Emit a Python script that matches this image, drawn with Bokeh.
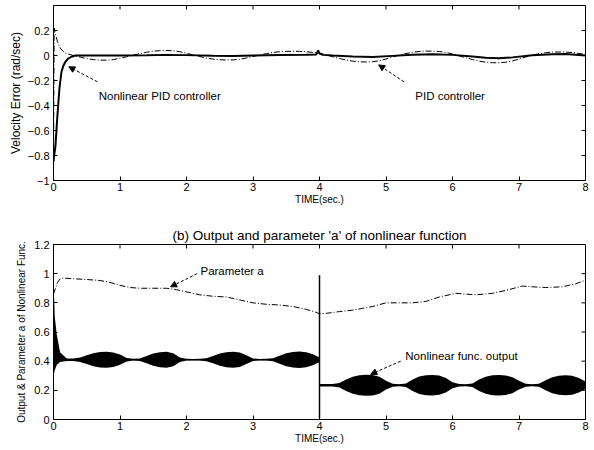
from bokeh.plotting import figure
from bokeh.models import Range1d, FixedTicker, Arrow, NormalHead, Label
from bokeh.layouts import column
from bokeh.embed import file_html
from bokeh.resources import INLINE
import math

FONT = "Liberation Sans"

# ---------------- data: (a) velocity error ----------------
x_ticks = [0, 1, 2, 3, 4, 5, 6, 7, 8]
err_ticks = [-1, -0.8, -0.6, -0.4, -0.2, 0, 0.2]
out_ticks = [0, 0.2, 0.4, 0.6, 0.8, 1.0, 1.2]

pid_t = [0.0, 0.01, 0.03, 0.06, 0.1, 0.15] + [round(0.2 + 0.1 * i, 1) for i in range(79)]
pid_v = [-0.85, 0.22, 0.17, 0.11, 0.06, 0.03,
         0.015, 0.0, -0.012, -0.025, -0.033, -0.037, -0.037, -0.033, -0.022, -0.01,
         0.003, 0.015, 0.026, 0.034, 0.039, 0.04, 0.038, 0.03, 0.018, 0.005,
         -0.008, -0.02, -0.029, -0.034, -0.036, -0.035, -0.03, -0.02, -0.008, 0.004,
         0.015, 0.024, 0.03, 0.033, 0.034, 0.033, 0.03, 0.025, 0.02, 0.005,
         -0.01, -0.024, -0.036, -0.045, -0.05, -0.052, -0.05, -0.042, -0.028, -0.012,
         0.003, 0.016, 0.026, 0.032, 0.035, 0.035, 0.032, 0.025, 0.012, -0.003,
         -0.018, -0.032, -0.045, -0.054, -0.058, -0.058, -0.054, -0.044, -0.028, -0.012,
         0.003, 0.014, 0.022, 0.027, 0.028, 0.027, 0.024, 0.017, 0.008]

nl_t = [0.0, 0.01, 0.03, 0.05, 0.07, 0.09, 0.12, 0.15, 0.18, 0.22, 0.27, 0.33,
        0.6, 1.0, 1.4, 1.7, 2.0, 2.4, 2.7, 3.0, 3.4, 3.8,
        3.95, 3.98, 4.0, 4.05,
        4.2, 4.5, 4.8, 5.1, 5.4, 5.7, 6.0, 6.3, 6.5, 6.7, 6.9, 7.2, 7.5, 7.7, 8.0]
nl_v = [-0.85, -0.8, -0.72, -0.55, -0.4, -0.26, -0.13, -0.08, -0.05, -0.025, -0.01, 0.0,
        0.0, 0.0, 0.002, 0.005, 0.003, -0.002, -0.004, 0.0, 0.004, 0.006,
        0.008, 0.04, 0.015, 0.005,
        0.0, -0.008, -0.012, -0.003, 0.006, 0.01, 0.005, -0.008, -0.018, -0.022, -0.015,
        0.002, 0.01, 0.012, 0.0]

# ---------------- data: (b) output and parameter a ----------------
pa_t = [0.0, 0.03, 0.06, 0.1, 0.15, 0.3, 0.5, 0.7, 0.85, 1.0, 1.15, 1.3, 1.5, 1.7, 1.85,
        2.0, 2.2, 2.4, 2.6, 2.8, 3.0, 3.2, 3.4, 3.6, 3.8, 3.95, 4.0, 4.1, 4.3, 4.5,
        4.8, 5.0, 5.2, 5.4, 5.6, 5.8, 6.05, 6.2, 6.35, 6.6, 6.8, 7.05, 7.2, 7.4, 7.65,
        7.85, 8.0]
pa_v = [0.86, 0.9, 0.94, 0.965, 0.97, 0.965, 0.96, 0.953, 0.94, 0.92, 0.905, 0.9, 0.9, 0.9, 0.89,
        0.875, 0.855, 0.845, 0.84, 0.82, 0.80, 0.79, 0.785, 0.775, 0.755, 0.735, 0.725, 0.728, 0.74, 0.75,
        0.775, 0.80, 0.80, 0.80, 0.81, 0.84, 0.865, 0.86, 0.855, 0.865, 0.885, 0.915, 0.91, 0.905, 0.91,
        0.93, 0.955]

# output of nonlinear function: level and half-width of the oscillation band
out1_t = [0.0, 0.02, 0.05, 0.1] + [round(0.2 + 0.1 * i, 1) for i in range(39)]
out1_start_hi = [0.95, 0.70, 0.58, 0.46]
out1_start_lo = [0.30, 0.34, 0.375, 0.395]
out1_level = 0.41
out1_half = [0.008, 0.008, 0.015, 0.03, 0.045, 0.053, 0.055, 0.05, 0.035, 0.012,
             0.006, 0.008, 0.025, 0.042, 0.052, 0.055, 0.045, 0.015, 0.006, 0.005,
             0.006, 0.01, 0.025, 0.042, 0.052, 0.055, 0.05, 0.03, 0.008, 0.005,
             0.006, 0.01, 0.028, 0.045, 0.053, 0.056, 0.052, 0.038, 0.015]

out2_t = [round(4.0 + 0.1 * i, 1) for i in range(41)]
out2_level = 0.235
out2_half = [0.008, 0.008, 0.008, 0.015, 0.04, 0.058, 0.068, 0.072, 0.07, 0.058, 0.03,
             0.01, 0.007, 0.012, 0.04, 0.06, 0.068, 0.07, 0.066, 0.05, 0.02,
             0.008, 0.007, 0.012, 0.04, 0.058, 0.068, 0.07, 0.067, 0.055, 0.03,
             0.01, 0.007, 0.01, 0.035, 0.055, 0.065, 0.068, 0.065, 0.05, 0.025]

# switching transient at t = 4 s
jump_t = [4.0, 4.0, 4.0, 4.0]
jump_v = [0.41, 0.99, 0.01, 0.235]

out1_hi = out1_start_hi + [out1_level + h for h in out1_half]
out1_lo = out1_start_lo + [out1_level - h for h in out1_half]
out2_hi = [out2_level + h for h in out2_half]
out2_lo = [out2_level - h for h in out2_half]


def frame_style(p, yticks, ylabel, ylabel_size, ylabel_standoff):
    p.xgrid.visible = False
    p.ygrid.visible = False
    p.outline_line_color = "black"
    p.outline_line_width = 1
    p.background_fill_color = "white"
    p.border_fill_color = "white"
    xa = p.xaxis[0]
    ya = p.yaxis[0]
    xa.ticker = FixedTicker(ticks=x_ticks)
    ya.ticker = FixedTicker(ticks=yticks)
    for ax in (xa, ya):
        ax.major_tick_in = 4
        ax.major_tick_out = 0
        ax.minor_tick_in = 0
        ax.minor_tick_out = 0
        ax.axis_line_color = "black"
        ax.major_tick_line_color = "black"
        ax.major_label_text_font = FONT
        ax.major_label_text_font_size = "11px"
        ax.major_label_text_color = "black"
        ax.axis_label_text_font = FONT
        ax.axis_label_text_font_style = "normal"
        ax.axis_label_text_color = "black"
    xa.major_label_standoff = 2
    ya.major_label_standoff = 4
    xa.axis_label = "TIME(sec.)"
    xa.axis_label_text_font_size = "10px"
    xa.axis_label_standoff = 0
    ya.axis_label = ylabel
    ya.axis_label_text_font_size = ylabel_size
    ya.axis_label_standoff = ylabel_standoff
    # inner ticks on the top and right edges of the box
    y_top = p.y_range.end
    x_right = p.x_range.end
    p.ray(x=x_ticks, y=[y_top] * len(x_ticks), length=4, length_units="screen",
          angle=-math.pi / 2, line_color="black", line_width=1)
    p.ray(x=[x_right] * len(yticks), y=yticks, length=4, length_units="screen",
          angle=math.pi, line_color="black", line_width=1)


def note(p, x, y, text):
    p.add_layout(Label(x=x, y=y, text=text, text_font=FONT, text_font_size="11.5px",
                       text_color="black", text_baseline="middle", text_align="left"))


def pointer(p, x0, y0, x1, y1):
    p.add_layout(Arrow(end=NormalHead(size=6, line_color="black", fill_color="black", line_width=1),
                       x_start=x0, y_start=y0, x_end=x1, y_end=y1,
                       line_color="black", line_width=1, line_dash="3 2"))


# ---------------- figure (a) ----------------
p1 = figure(width=594, height=208, output_backend="svg", toolbar_location=None,
            x_range=Range1d(0, 8), y_range=Range1d(-1, 0.4),
            min_border_left=53, min_border_right=9, min_border_top=5, min_border_bottom=28)
frame_style(p1, err_ticks, "Velocity Error (rad/sec)", "12px", 2)
p1.line(pid_t, pid_v, line_color="black", line_width=1, line_dash="6 2 1 2")
p1.line(nl_t, nl_v, line_color="black", line_width=2)
note(p1, 0.68, -0.32, "Nonlinear PID controller")
pointer(p1, 0.66, -0.21, 0.23, -0.09)
note(p1, 5.44, -0.32, "PID controller")
pointer(p1, 5.27, -0.21, 4.89, -0.075)

# ---------------- figure (b) ----------------
p2 = figure(width=594, height=242, output_backend="svg", toolbar_location=None,
            x_range=Range1d(0, 8), y_range=Range1d(0, 1.2),
            min_border_left=53, min_border_right=9, min_border_top=36, min_border_bottom=31,
            title="(b) Output and parameter 'a' of nonlinear function")
p2.title.align = "center"
p2.title.text_font = FONT
p2.title.text_font_size = "13.5px"
p2.title.text_font_style = "normal"
p2.title.text_color = "black"
p2.title.standoff = 4
frame_style(p2, out_ticks, "Output & Parameter a of Nonlinear Func.", "10px", 4)
p2.varea(x=out1_t, y1=out1_lo, y2=out1_hi, fill_color="black")
p2.varea(x=out2_t, y1=out2_lo, y2=out2_hi, fill_color="black")
p2.line(out1_t, [(a + b) / 2 for a, b in zip(out1_hi, out1_lo)], line_color="black", line_width=1.2)
p2.line(out2_t, [(a + b) / 2 for a, b in zip(out2_hi, out2_lo)], line_color="black", line_width=1.2)
p2.line(jump_t, jump_v, line_color="black", line_width=1.5)
p2.line(pa_t, pa_v, line_color="black", line_width=1, line_dash="6 2 1 2")
note(p2, 2.21, 1.02, "Parameter a")
pointer(p2, 2.16, 1.0, 1.76, 0.91)
note(p2, 5.29, 0.437, "Nonlinear func. output")
pointer(p2, 5.22, 0.40, 4.77, 0.31)

layout = column(p1, p2, spacing=0)
open("out.html", "w").write(file_html(layout, INLINE))
